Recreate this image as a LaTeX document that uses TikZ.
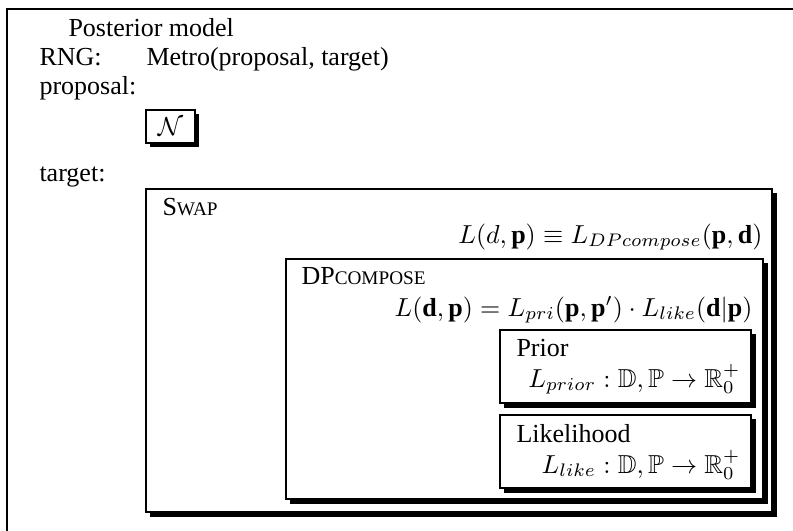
\documentclass[tikz,border=0pt]{standalone}
\usepackage{amssymb}
\usepackage{fontspec}
\setmainfont{Liberation Serif}
\newcommand{\fakesc}[2]{#1{\fontsize{7.4}{9}\selectfont #2}}
\begin{document}
\begin{tikzpicture}[x=0.3846pt, y=-0.3846pt,
  frame/.style={draw=black, line width=0.4pt},
  panel/.style={draw=black, line width=0.4pt, fill=white},
  shade/.style={fill=black},
  lbl/.style={anchor=base west, inner sep=0pt, font=\fontsize{10}{12}\selectfont},
  eqn/.style={anchor=base east, inner sep=0pt, font=\fontsize{10}{12}\selectfont}]
\useasboundingbox (0,0) rectangle (793,531);
\clip (0,0) rectangle (793,531);

% outer frame of the posterior model
\draw[frame] (7,9) rectangle (820,560);
\node[lbl] (title) at (68,36) {Posterior model};
\node[lbl] (rng) at (39,65) {RNG:};
\node[lbl] (metro) at (146,65) {Metro(proposal, target)};
\node[lbl] (prop) at (39,94) {proposal:};
\node[lbl] (targ) at (39,181) {target:};

% proposal distribution box
\fill[shade] (150,114) rectangle (199,147);
\draw[panel] (146,110) rectangle (195,143);
\node[inner sep=0pt] (normal) at (170.5,127) {$\mathcal{N}$};

% Swap box
\fill[shade] (150,193) rectangle (777,517);
\draw[panel] (146,189) rectangle (772,512);
\node[lbl] (swap) at (162,215) {\fakesc{S}{WAP}};
\node[eqn] (swapeq) at (763,243) {$L(d,\mathbf{p}) \equiv L_{DPcompose}(\mathbf{p},\mathbf{d})$};

% DPcompose box
\fill[shade] (290,263) rectangle (768,504);
\draw[panel] (286,259) rectangle (763,499);
\node[lbl] (dpc) at (301,284) {\fakesc{DP}{COMPOSE}};
\node[eqn] (dpceq) at (753,316) {$L(\mathbf{d},\mathbf{p}) = L_{pri}(\mathbf{p},\mathbf{p}') \cdot L_{like}(\mathbf{d}|\mathbf{p})$};

% Prior box
\fill[shade] (504,334) rectangle (756,408);
\draw[panel] (500,330) rectangle (751,403);
\node[lbl] (prior) at (516,356) {Prior};
\node[eqn] (prioreq) at (741,387) {$L_{prior} : \mathbb{D},\mathbb{P} \rightarrow \mathbb{R}_0^+$};

% Likelihood box
\fill[shade] (504,419) rectangle (756,493);
\draw[panel] (500,415) rectangle (751,488);
\node[lbl] (like) at (516,442) {Likelihood};
\node[eqn] (likeeq) at (741,473) {$L_{like} : \mathbb{D},\mathbb{P} \rightarrow \mathbb{R}_0^+$};
\end{tikzpicture}
\end{document}
